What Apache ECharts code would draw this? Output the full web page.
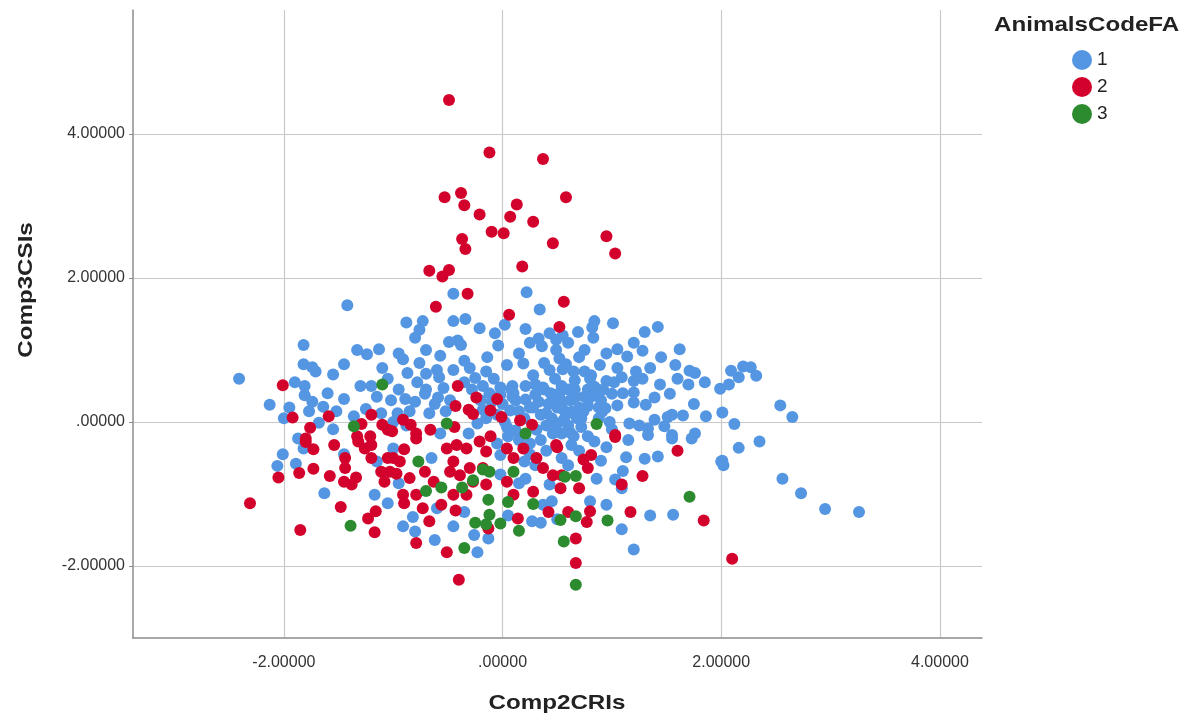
<!DOCTYPE html>
<html>
<head>
<meta charset="utf-8">
<script src="https://cdn.jsdelivr.net/npm/echarts@6/dist/echarts.min.js"></script>
<style>
html,body{margin:0;padding:0;background:#fff;}
#chart{width:1203px;height:715px;}
</style>
</head>
<body>
<div id="chart"></div>
<script>
// ---- data (Comp2CRIs, Comp3CSIs) ----
const groupNames = ['1', '2', '3'];
const xTitle = 'Comp2CRIs';
const yTitle = 'Comp3CSIs';
const legendTitle = 'AnimalsCodeFA';
const tickValues = [-2, 0, 2, 4];

const group1 = [
[-0.45,1.78],[0.22,1.80],[0.34,1.56],[-0.88,1.38],[-0.73,1.40],[-0.76,1.28],[-0.80,1.17],[-0.45,1.40],[-0.34,1.43],[-0.21,1.30],[-0.07,1.23],[0.02,1.35],[0.21,1.29],[-0.49,1.11],[-0.41,1.13],[-0.38,1.07],[-0.04,1.06],[0.33,1.16],[0.43,1.23],[0.36,1.05],[0.49,1.00],[-0.57,0.92],[-0.91,0.87],[-0.76,0.82],[-0.35,0.85],[-0.14,0.90],[0.04,0.79],[0.19,0.81],[0.38,0.82],[-0.87,0.68],[-0.70,0.67],[-0.60,0.72],[-0.45,0.72],[-0.58,0.62],[-0.25,0.61],[-0.08,0.60],[0.28,0.65],[0.43,0.72],[-0.54,0.47],[-0.18,0.50],[-0.02,0.48],[0.09,0.50],[0.21,0.50],[0.37,0.48],[-0.71,0.39],[-0.89,0.32],[-0.80,0.28],[-0.59,0.34],[0.09,0.35],[0.21,0.31],[0.33,0.28],[0.46,0.33],[-0.96,0.12],[-0.67,0.12],[-0.18,0.17],[0.07,0.16],[0.40,0.12],[-0.23,-0.02],[0.04,-0.07],[0.31,-0.11],[0.46,-0.16],[-0.31,-0.16],[-0.57,-0.16],
[0.84,1.40],[0.82,1.31],[0.83,1.17],[1.01,1.37],[0.69,1.25],[1.30,1.25],[1.42,1.32],[0.49,1.14],[1.05,1.01],[1.14,0.91],[1.28,0.99],[1.62,1.01],[0.52,0.88],[0.55,0.73],[0.89,0.79],[1.58,0.79],[1.71,0.71],[1.76,0.68],[0.75,0.70],[0.81,0.65],[1.09,0.62],[1.20,0.57],[1.28,0.60],[1.44,0.52],[1.70,0.52],[1.99,0.46],[0.66,0.58],[0.95,0.57],[0.54,0.50],[0.84,0.49],[1.00,0.39],[1.20,0.41],[1.53,0.39],[0.67,0.35],[0.80,0.34],[1.39,0.34],[1.31,0.24],[0.54,0.29],[0.78,0.22],[0.94,0.19],[1.05,0.23],[1.20,0.27],[0.63,0.14],[0.91,0.14],[1.16,-0.02],[1.39,0.03],[1.51,0.07],[1.65,0.09],[1.86,0.08],[2.01,0.13],[0.56,0.03],[0.72,-0.07],[1.33,-0.09],[1.48,-0.06],[1.55,-0.18],[1.76,-0.16],[1.33,-0.18],[0.54,-0.16],
[2.09,0.71],[2.20,0.77],[2.27,0.76],[2.16,0.62],[2.32,0.64],[2.07,0.52],[2.12,-0.03],[2.54,0.23],[2.65,0.07],[2.35,-0.27],[2.02,-0.60],[2.01,-0.54],[2.16,-0.36],[2.56,-0.79],[2.73,-0.99],[2.95,-1.21],[3.26,-1.25],
[-1.42,1.62],[-2.41,0.60],[-2.13,0.24],[-1.82,1.07],[-1.33,1.00],[-1.24,0.94],[-1.13,1.01],[-1.82,0.80],[-1.74,0.76],[-1.71,0.70],[-1.55,0.66],[-1.10,0.75],[-1.20,0.50],[-1.81,0.50],[-1.81,0.37],[-1.74,0.28],[-1.45,0.32],[-1.64,0.21],[-1.77,0.15],[-1.52,0.15],[-1.36,0.08],[-1.25,0.18],[-1.68,-0.01],[-1.11,0.12],
[-2.01,-0.45],[-2.06,-0.61],[-1.89,-0.58],[-1.82,-0.37],[-1.63,-0.99],[-1.17,-1.01],[-1.05,-1.13],[-1.87,-0.23],
[-0.82,-1.32],[-0.91,-1.45],[-0.80,-1.52],[-0.62,-1.64],[-0.23,-1.81],[-0.13,-1.62],[-0.26,-1.57],[-0.02,-0.73],[0.27,-1.38],[0.21,-0.79],[0.37,-1.15],[0.43,-0.87],[-0.02,-0.46],[-1.00,-0.37],
[1.13,-0.49],[1.30,-0.51],[1.42,-0.48],[0.86,-0.79],[1.03,-0.80],[1.10,-0.68],[1.09,-0.92],[1.56,-1.29],[1.09,-1.49],[1.20,-1.77],[0.90,-0.54],[0.54,-0.50],[0.63,-0.32],[0.84,-0.27],[1.73,-0.23],[1.55,-0.23],[2.00,-0.55],
[0.45,0.05],[0.50,0.20],[0.52,0.40],[0.58,0.10],[0.60,-0.05],[0.62,0.30],[0.66,0.45],[0.70,0.20],[0.72,0.05],[0.75,0.35],[0.48,-0.10],[0.42,0.25],[0.38,0.45],[0.30,0.38],[0.25,0.20],[0.20,0.05],[0.12,0.30],[0.08,0.45],[0.00,0.25],[-0.05,0.10],[-0.12,0.40],[-0.20,0.30],[-0.28,0.45],[-0.35,0.55],[-0.48,0.30],[-0.52,0.15],[-0.62,0.25],[-0.70,0.45],[-0.78,0.55],[-0.85,0.15],[-0.95,0.45],[-1.02,0.30],[-1.05,0.60],[-1.00,0.00],[-0.88,-0.05],[0.15,-0.25],[0.25,-0.30],[0.35,-0.25],[0.05,-0.20],[-0.05,-0.30],[0.30,-0.60],[0.20,-0.55],[0.65,-0.20],[0.70,-0.40],[0.95,-0.35],[1.00,-0.10],[1.15,-0.25],[1.25,-0.05],[0.88,0.05],[0.98,0.00],[0.90,0.30],[1.10,0.40],[0.80,0.60],[0.70,0.90],[0.60,1.10],[0.75,1.00],[0.55,1.20],[0.25,1.10],[0.15,0.95],[-0.15,0.70],[-0.30,0.75],[-0.70,1.00],[-0.95,0.95],[-1.15,0.35],[-1.30,0.50],[-1.45,0.80],[-1.60,0.40],[-1.90,0.55],[-1.95,0.20],[-2.00,0.05],[-1.55,-0.10],[-1.45,-0.45],[-0.60,-1.20],[-0.35,-1.25],[-0.45,-1.45],[0.05,-1.30],[0.35,-1.40],[0.45,-1.10],[0.50,-1.35],[0.80,-1.10],[0.95,-1.15],[1.35,-1.30],[-0.95,-0.85],[-1.15,-0.55],[-0.65,-0.50],[0.15,-0.85],[1.55,0.10],[1.75,0.25],[1.85,0.55],[1.60,0.60],[1.45,0.90],[1.22,0.70],[1.05,0.75],[0.95,0.95],[1.20,1.10],[1.35,0.75],
[0.44,0.40],[0.55,0.18],[0.60,0.45],[0.68,0.05],[0.74,0.15],[0.78,0.45],[0.85,0.38],[0.88,0.20],[0.62,-0.15],[0.50,-0.02],[0.40,-0.05],[0.35,0.10],[0.28,0.20],[0.15,0.15],[0.10,0.40],[-0.02,0.38],[-0.10,0.28],[-0.15,0.05],[0.02,0.00],[0.12,-0.12],[0.30,0.52],[0.48,0.60],[0.58,0.80],[0.65,0.70],[0.92,0.45],[1.02,0.55],[0.25,-0.45],[0.40,-0.40],[0.60,-0.60],[0.78,-0.20]
];

const group2 = [
[-0.49,4.47],[-0.12,3.74],[0.37,3.65],[-0.53,3.12],[-0.38,3.18],[-0.35,3.01],[0.58,3.12],[0.13,3.02],[-0.21,2.88],[0.07,2.85],[0.28,2.78],[-0.10,2.64],[0.01,2.62],[-0.37,2.54],[-0.34,2.40],[0.46,2.48],[0.95,2.58],[1.03,2.34],[0.18,2.16],[-0.67,2.10],[-0.49,2.11],[-0.55,2.02],
[-0.32,1.78],[-0.61,1.60],[0.06,1.49],[0.56,1.67],[0.52,1.32],
[-0.41,0.50],[-0.24,0.34],[-0.05,0.32],[-0.43,0.22],[-0.31,0.17],[-0.27,0.11],[-0.11,0.16],[-0.01,0.07],[0.16,0.02],[0.27,-0.04],[-0.44,-0.07],[-0.66,-0.11],[-0.91,0.03],[-0.84,-0.04],[-1.01,-0.13],[-0.79,-0.16],[-0.11,-0.20],
[1.03,-0.18],[2.10,-1.90],
[-2.01,0.51],[-1.92,0.06],[-1.76,-0.08],[-1.59,0.08],[-1.20,0.10],[-1.29,-0.03],[-1.10,-0.04],[-1.05,-0.11],[-1.33,-0.20],[-1.21,-0.20],[-1.80,-0.23],
[-2.31,-1.13],[-1.85,-1.50],[-2.05,-0.77],[-1.86,-0.71],[-1.73,-0.65],[-1.58,-0.75],[-1.54,-0.32],[-1.73,-0.38],[-1.80,-0.28],[-1.48,-1.18],[-1.17,-1.53],[-1.23,-1.34],[-1.16,-1.24],[-1.45,-0.83],[-1.44,-0.50],[-1.44,-0.64],[-1.34,-0.77],[-1.38,-0.87],[-1.32,-0.27],[-1.26,-0.37],[-1.20,-0.32],[-1.20,-0.50],[-1.11,-0.69],[-1.08,-0.83],[-1.05,-0.50],[-1.03,-0.69],
[-0.40,-2.19],[-0.51,-1.81],[-0.79,-1.68],[-0.67,-1.38],[-0.73,-1.20],[-0.56,-1.15],[-0.43,-1.23],[-0.90,-1.13],[-0.91,-1.01],[-0.97,-0.72],[-0.94,-0.55],[-0.90,-0.38],[-0.79,-0.23],[-1.00,-0.50],[-0.85,-0.78],[-0.71,-0.69],[-0.63,-0.83],[-0.79,-1.01],[-0.51,-0.37],[-0.42,-0.32],[-0.33,-0.37],[-0.45,-0.55],[-0.48,-0.69],[-0.39,-0.74],[-0.30,-0.64],[-0.27,-0.83],[-0.45,-1.01],[-0.33,-1.01],[-0.18,-0.64],[-0.15,-0.41],[-0.21,-0.27],[-0.15,-0.87],[-0.13,-1.48],[0.04,-0.37],[0.04,-0.83],[0.10,-0.50],[0.10,-1.01],[0.14,-1.34],[0.19,-0.37],[0.31,-0.50],[0.37,-0.64],[0.28,-0.97],[0.42,-1.25],[0.49,-0.32],[0.46,-0.74],
[1.60,-0.40],[1.28,-0.75],[1.09,-0.87],[1.17,-1.25],[1.84,-1.37],[0.67,-1.96],[0.67,-1.62],[0.77,-1.39],[0.80,-1.24],[0.60,-1.25],[0.70,-0.92],[0.53,-0.92],[0.74,-0.52],[0.81,-0.46],[0.78,-0.64],[1.03,-0.21],[0.50,-0.35],[0.54,-0.74]
];

const group3 = [
[-0.51,-0.02],[0.21,-0.16],[0.86,-0.03],[-1.10,0.52],[-1.36,-0.06],[-1.39,-1.44],[-0.77,-0.55],[-0.70,-0.96],[-0.56,-0.91],[-0.37,-0.91],[-0.27,-0.81],[-0.18,-0.66],[-0.12,-0.69],[-0.13,-1.08],[-0.12,-1.29],[-0.25,-1.40],[-0.15,-1.42],[-0.02,-1.41],[-0.35,-1.75],[0.05,-1.11],[0.10,-0.69],[0.15,-1.51],[0.28,-1.14],[1.71,-1.04],[0.96,-1.37],[0.67,-1.31],[0.53,-1.36],[0.56,-1.66],[0.67,-2.26],[0.57,-0.76],[0.67,-0.75]
];

const colors = ['#5596E2', '#D3022C', '#2C8A2F'];
const FONT = 'Arial, "Liberation Sans", sans-serif';

function fmt(v) {
  let s = Number(v).toFixed(5);
  if (s.indexOf('0.') === 0) s = s.slice(1);
  if (s.indexOf('-0.') === 0) s = '-' + s.slice(2);
  return s;
}

const chart = echarts.init(document.getElementById('chart'), null, {renderer: 'canvas'});
const seriesData = [group1, group2, group3];

chart.setOption({
  animation: false,
  backgroundColor: '#ffffff',
  grid: {left: 133, right: 221, top: 10, bottom: 77, containLabel: false},
  legend: {
    orient: 'vertical',
    left: 1067,
    top: 45,
    itemWidth: 20,
    itemHeight: 20,
    itemGap: 7,
    icon: 'circle',
    data: groupNames,
    textStyle: {fontFamily: FONT, fontSize: 19, color: '#222', padding: [0, 0, 0, 0]}
  },
  xAxis: {
    type: 'value',
    min: -3.38,
    max: 4.385,
    axisLine: {show: true, onZero: false, lineStyle: {color: '#8c8c8c', width: 1.5}},
    axisTick: {show: false, customValues: tickValues},
    axisLabel: {customValues: tickValues, formatter: fmt, fontFamily: FONT, fontSize: 16, color: '#333', margin: 17},
    splitLine: {show: true, lineStyle: {color: '#c9c9c9', width: 1.2}}
  },
  yAxis: {
    type: 'value',
    min: -3.0,
    max: 5.72,
    axisLine: {show: true, onZero: false, lineStyle: {color: '#8c8c8c', width: 1.5}},
    axisTick: {show: true, inside: false, length: 4, customValues: tickValues, lineStyle: {color: '#8c8c8c'}},
    axisLabel: {customValues: tickValues, formatter: fmt, fontFamily: FONT, fontSize: 16, color: '#333', margin: 8},
    splitLine: {show: true, lineStyle: {color: '#c9c9c9', width: 1.2}}
  },
  series: groupNames.map((name, i) => ({
    name: name,
    type: 'scatter',
    data: seriesData[i],
    symbol: 'circle',
    symbolSize: 12,
    itemStyle: {color: colors[i], opacity: 1},
    z: 2 + i
  })),
  graphic: [
    {type: 'text', left: 994, top: 15, scaleX: 1.15,
     style: {text: legendTitle, font: 'bold 21px ' + FONT, fill: '#222'}},
    {type: 'text', x: 557, y: 703, scaleX: 1.15,
     style: {text: xTitle, font: 'bold 21px ' + FONT, fill: '#222', textAlign: 'center', textVerticalAlign: 'middle'}},
    {type: 'text', x: 26, y: 290, rotation: Math.PI / 2, scaleX: 1.15,
     style: {text: yTitle, font: 'bold 21px ' + FONT, fill: '#222', textAlign: 'center', textVerticalAlign: 'middle'}}
  ]
});
</script>
</body>
</html>
